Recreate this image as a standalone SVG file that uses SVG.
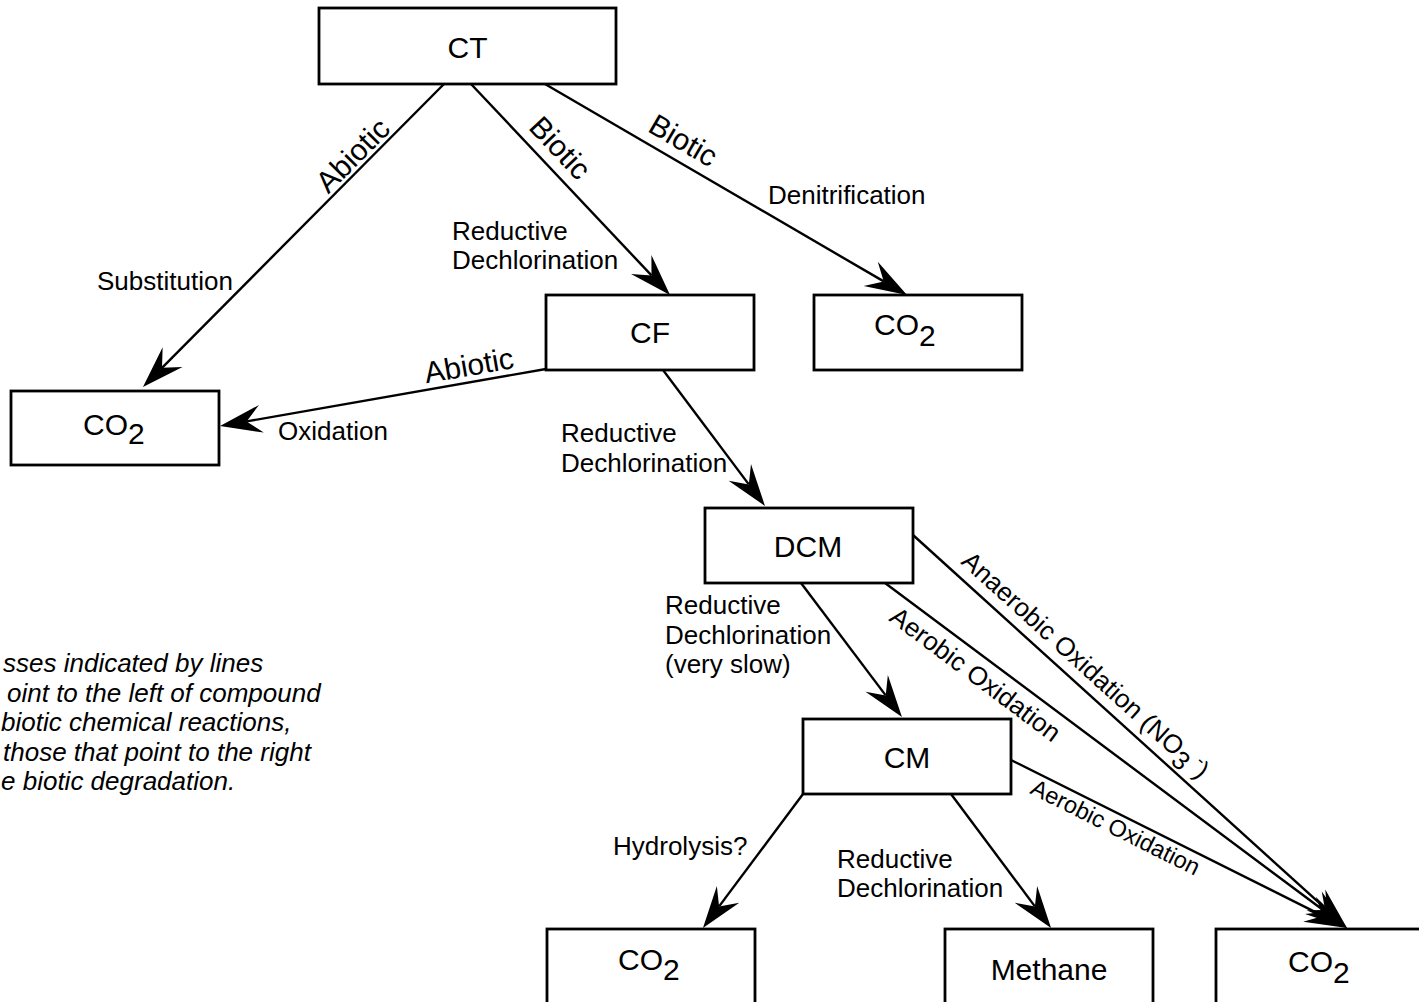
<svg xmlns="http://www.w3.org/2000/svg" width="1419" height="1002" viewBox="0 0 1419 1002">
<style>
  .box { fill: #ffffff; stroke: #000000; stroke-width: 2.8; }
  text { font-family: "Liberation Sans", Arial, Helvetica, sans-serif; fill: #000000; }
  .node { font-size: 30px; }
  .mid { text-anchor: middle; }
  .lbl { font-size: 26px; }
  .rot { font-size: 30px; text-anchor: middle; }
  .small { font-size: 23.5px; }
  .note { font-size: 26px; font-style: italic; }
  .edge { stroke: #000000; stroke-width: 2.4; fill: none; marker-end: url(#ah); }
</style>
<defs>
  <marker id="ah" markerUnits="userSpaceOnUse" orient="auto" viewBox="-17 -16 46 32" markerWidth="46" markerHeight="32" refX="0" refY="0">
    <path d="M27,0 L-15,-14 L0,0 L-15,14 Z" fill="#000000"/>
  </marker>
</defs>
<rect width="1419" height="1002" fill="#ffffff"/>

<g id="node-ct"><rect class="box" x="319" y="8" width="297" height="76"/><text class="node mid" x="467.5" y="58">CT</text></g>
<g id="node-cf"><rect class="box" x="546" y="295" width="208" height="75"/><text class="node mid" x="650" y="343">CF</text></g>
<g id="node-co2-denit"><rect class="box" x="814" y="295" width="208" height="75"/><text class="node" x="874" y="335">CO<tspan dy="11">2</tspan></text></g>
<g id="node-co2-abiotic"><rect class="box" x="11" y="391" width="208" height="74"/><text class="node" x="83" y="435">CO<tspan dy="9">2</tspan></text></g>
<g id="node-dcm"><rect class="box" x="705" y="508" width="208" height="75"/><text class="node mid" x="808" y="557">DCM</text></g>
<g id="node-cm"><rect class="box" x="803" y="719" width="208" height="75"/><text class="node mid" x="907" y="768">CM</text></g>
<g id="node-co2-hydrolysis"><rect class="box" x="547" y="929" width="208" height="75"/><text class="node" x="618" y="970">CO<tspan dy="10">2</tspan></text></g>
<g id="node-methane"><rect class="box" x="945" y="929" width="208" height="75"/><text class="node mid" x="1049" y="980">Methane</text></g>
<g id="node-co2-oxidation"><rect class="box" x="1216" y="929" width="208" height="75"/><text class="node" x="1288" y="972">CO<tspan dy="11">2</tspan></text></g>

<g id="connectors">
  <line class="edge" x1="444" y1="84" x2="162.0" y2="367.8"/>
  <line class="edge" x1="471" y1="84" x2="651.5" y2="275.4"/>
  <line class="edge" x1="545" y1="84" x2="883.7" y2="281.4"/>
  <line class="edge" x1="546" y1="369" x2="246.6" y2="421.4"/>
  <line class="edge" x1="663" y1="370" x2="748.8" y2="484.4"/>
  <line class="edge" x1="801" y1="583" x2="885.7" y2="695.4"/>
  <line class="edge" x1="885" y1="583" x2="1325.4" y2="911.8"/>
  <line class="edge" x1="913" y1="535" x2="1327.0" y2="909.9"/>
  <line class="edge" x1="1011" y1="760" x2="1322.9" y2="915.9"/>
  <line class="edge" x1="803" y1="794" x2="719.1" y2="906.4"/>
  <line class="edge" x1="951" y1="794" x2="1034.9" y2="906.4"/>
</g>

<g id="edge-labels">
  <text class="rot" transform="translate(360,162.6) rotate(-45.2)">Abiotic</text>
  <text class="rot" transform="translate(552.7,154.9) rotate(46.7)">Biotic</text>
  <text class="rot" transform="translate(678.1,149.3) rotate(30.2)">Biotic</text>
  <text class="rot" transform="translate(470.7,375.6) rotate(-9.9)">Abiotic</text>
  <text class="lbl" x="97" y="290">Substitution</text>
  <text class="lbl" x="452" y="240">Reductive</text>
  <text class="lbl" x="452" y="269">Dechlorination</text>
  <text class="lbl" x="768" y="204">Denitrification</text>
  <text class="lbl" x="278" y="440">Oxidation</text>
  <text class="lbl" x="561" y="442">Reductive</text>
  <text class="lbl" x="561" y="472">Dechlorination</text>
  <text class="lbl" x="665" y="614">Reductive</text>
  <text class="lbl" x="665" y="644">Dechlorination</text>
  <text class="lbl" x="665" y="673">(very slow)</text>
  <text class="lbl" x="613" y="855">Hydrolysis?</text>
  <text class="lbl" x="837" y="868">Reductive</text>
  <text class="lbl" x="837" y="897">Dechlorination</text>
  <text class="lbl" transform="translate(960,563) rotate(42.2)">Anaerobic Oxidation (NO<tspan dy="7">3</tspan><tspan dy="-17" font-size="18"> -</tspan><tspan dy="10">)</tspan></text>
  <text class="lbl" transform="translate(888,620) rotate(36.75)">Aerobic Oxidation</text>
  <text class="small" transform="translate(1029,793) rotate(26.57)">Aerobic Oxidation</text>
</g>

<g id="note">
  <text class="note" x="3" y="672">sses indicated by lines</text>
  <text class="note" x="7" y="701.5">oint to the left of compound</text>
  <text class="note" x="1" y="731">biotic chemical reactions,</text>
  <text class="note" x="3" y="760.5">those that point to the right</text>
  <text class="note" x="1" y="790">e biotic degradation.</text>
</g>
</svg>
